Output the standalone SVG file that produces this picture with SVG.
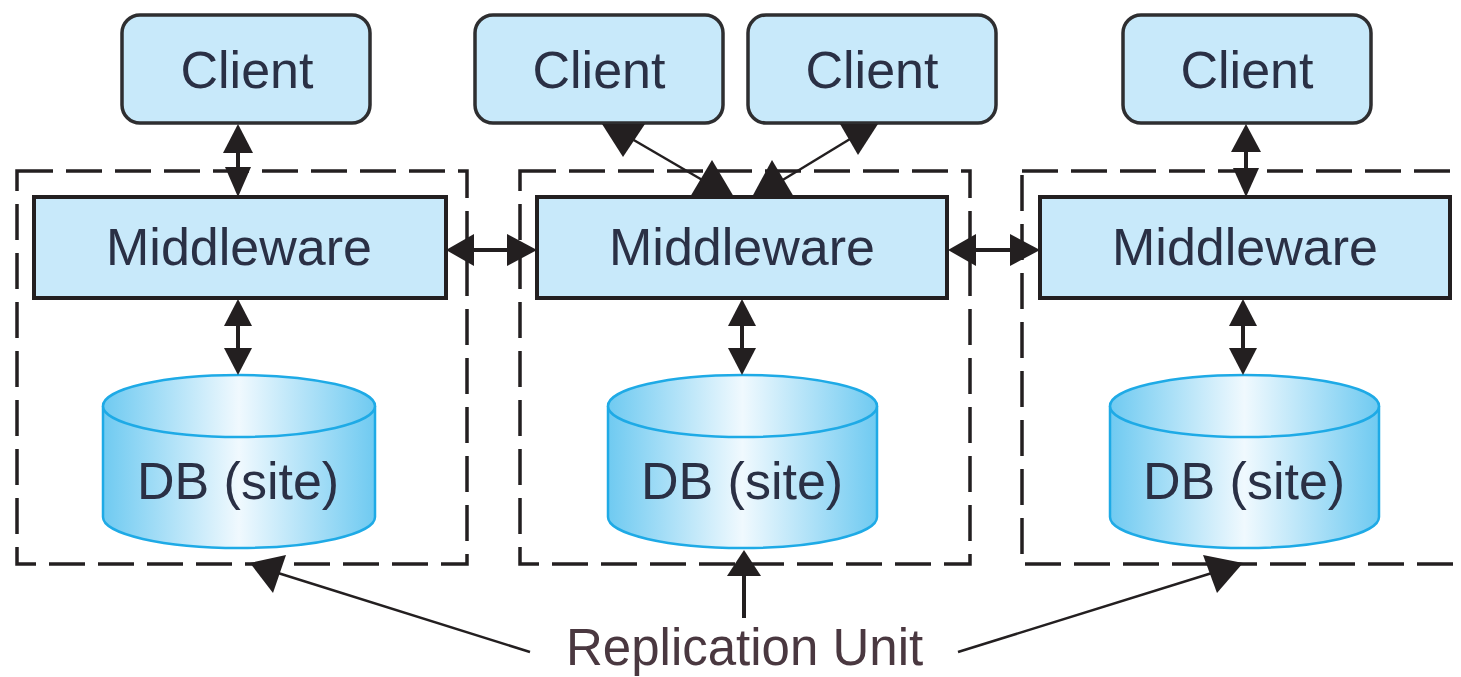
<svg xmlns="http://www.w3.org/2000/svg" width="1461" height="677" viewBox="0 0 1461 677">
<defs>
<linearGradient id="cyl" x1="0" y1="0" x2="1" y2="0">
<stop offset="0" stop-color="#6fcaf1"/>
<stop offset="0.5" stop-color="#f0f9fe"/>
<stop offset="1" stop-color="#6fcaf1"/>
</linearGradient>
<style>
.client{fill:#c8e9fa;stroke:#2e2e30;stroke-width:3.5}
.mw{fill:#c8e9fa;stroke:#231f20;stroke-width:4}
.unit{fill:none;stroke:#231f20;stroke-width:3.5;stroke-dasharray:36 13}
.cylb{fill:url(#cyl);stroke:#1eaae6;stroke-width:2.5}
.lbl{font-family:"Liberation Sans",Arial,sans-serif;font-size:52px;fill:#2a3045;text-anchor:middle}
.rep{font-family:"Liberation Sans",Arial,sans-serif;font-size:51px;fill:#4a3840}
.ln{stroke:#231f20;stroke-width:4;fill:none}
.thin{stroke:#231f20;stroke-width:2.5;fill:none}
.ah{fill:#231f20}
</style>
</defs>

<g id="unit1"><rect class="unit" x="17" y="171" width="450" height="393"/></g>
<g id="unit2"><rect class="unit" x="520" y="171" width="450" height="393"/></g>
<g id="unit3"><rect class="unit" x="1022" y="171" width="460" height="393"/></g>

<g id="client1"><rect class="client" x="122" y="15" width="248" height="108" rx="18"/><text class="lbl" x="247" y="88">Client</text></g>
<g id="client2"><rect class="client" x="475" y="15" width="248" height="108" rx="18"/><text class="lbl" x="599" y="88">Client</text></g>
<g id="client3"><rect class="client" x="748" y="15" width="248" height="108" rx="18"/><text class="lbl" x="872" y="88">Client</text></g>
<g id="client4"><rect class="client" x="1123" y="15" width="248" height="108" rx="18"/><text class="lbl" x="1247" y="88">Client</text></g>

<g id="mw1"><rect class="mw" x="34" y="197" width="412" height="101"/><text class="lbl" x="239" y="265">Middleware</text></g>
<g id="mw2"><rect class="mw" x="537" y="197" width="410" height="101"/><text class="lbl" x="742" y="265">Middleware</text></g>
<g id="mw3"><rect class="mw" x="1040" y="197" width="410" height="101"/><text class="lbl" x="1245" y="265">Middleware</text></g>

<g id="db1">
<path class="cylb" d="M103,406 L103,517 A136,31 0 0 0 375,517 L375,406"/>
<ellipse class="cylb" cx="239" cy="406" rx="136" ry="31"/>
<text class="lbl" x="238" y="499">DB (site)</text>
</g>
<g id="db2">
<path class="cylb" d="M608,406 L608,517 A134.5,31 0 0 0 877,517 L877,406"/>
<ellipse class="cylb" cx="742.5" cy="406" rx="134.5" ry="31"/>
<text class="lbl" x="742" y="499">DB (site)</text>
</g>
<g id="db3">
<path class="cylb" d="M1110,406 L1110,517 A134.5,31 0 0 0 1379,517 L1379,406"/>
<ellipse class="cylb" cx="1244.5" cy="406" rx="134.5" ry="31"/>
<text class="lbl" x="1244" y="499">DB (site)</text>
</g>

<g id="replabel"><text class="rep" x="566" y="665">Replication Unit</text></g>

<g id="connectors">
<line class="ln" x1="238" y1="140" x2="238" y2="180"/>
<polygon class="ah" points="238,124 223,153 253,153"/>
<polygon class="ah" points="238,197 225,167 251,167"/>
<line class="ln" x1="1246" y1="140" x2="1246" y2="180"/>
<polygon class="ah" points="1246,124 1231,152 1261,152"/>
<polygon class="ah" points="1246,197 1233,168 1259,168"/>
<line class="thin" x1="632" y1="139" x2="704" y2="181"/>
<line class="thin" x1="850" y1="139" x2="781" y2="181"/>
<polygon class="ah" points="602,124 645,124 623,157"/>
<polygon class="ah" points="878,124 840,124 858,155"/>
<polygon class="ah" points="712,160 690,197 734,197"/>
<polygon class="ah" points="772,160 752,197 794,197"/>
<line class="ln" x1="238" y1="315" x2="238" y2="360"/>
<polygon class="ah" points="238,299 224,326 252,326"/>
<polygon class="ah" points="238,375 224,348 252,348"/>
<line class="ln" x1="742" y1="315" x2="742" y2="360"/>
<polygon class="ah" points="742,299 728,326 756,326"/>
<polygon class="ah" points="742,375 728,348 756,348"/>
<line class="ln" x1="1243" y1="315" x2="1243" y2="360"/>
<polygon class="ah" points="1243,299 1229,326 1257,326"/>
<polygon class="ah" points="1243,375 1229,348 1257,348"/>
<line class="ln" x1="460" y1="250" x2="522" y2="250"/>
<polygon class="ah" points="446,250 474,234 474,266"/>
<polygon class="ah" points="537,250 507,234 507,266"/>
<line class="ln" x1="962" y1="250" x2="1025" y2="250"/>
<polygon class="ah" points="948,250 976,234 976,266"/>
<polygon class="ah" points="1040,250 1010,234 1010,266"/>
<line class="thin" x1="530" y1="652" x2="278" y2="573"/>
<polygon class="ah" points="250,563 286,555 273,593"/>
<line class="ln" x1="744" y1="618" x2="744" y2="570"/>
<polygon class="ah" points="744,550 727,576 761,576"/>
<line class="thin" x1="958" y1="652" x2="1212" y2="573"/>
<polygon class="ah" points="1243,563 1203,555 1217,593"/>
</g>
</svg>
